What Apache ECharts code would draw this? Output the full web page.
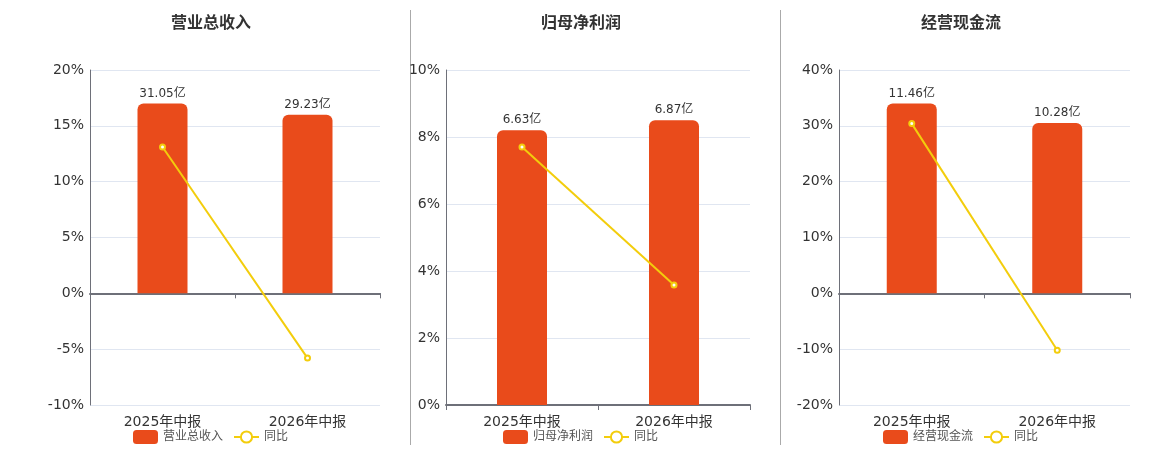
<!DOCTYPE html>
<html>
<head>
<meta charset="utf-8">
<script src="https://cdn.jsdelivr.net/npm/echarts@6/dist/echarts.min.js"></script>
<style>
  html, body { margin: 0; padding: 0; background: #fff; }
  #main { width: 1160px; height: 450px; }
</style>
</head>
<body>
<div id="main"></div>
<script>
// 数据
var categories = ['2025年中报', '2026年中报'];
var panelNames = ['营业总收入', '归母净利润', '经营现金流'];
var barValues = [
    [31.05, 29.23],
    [6.63, 6.87],
    [11.46, 10.28]
];
var yoyValues = [
    [13.1, -5.8],
    [7.7, 3.58],
    [30.4, -10.2]
];
var axisMin = [-10, 0, -20];
var axisMax = [20, 10, 40];
var axisStep = [5, 2, 10];

var barColor = '#e94b1b';
var lineColor = '#f3cd0c';
var fontFamily = '"DejaVu Sans", "Noto Sans CJK SC", sans-serif';

// 布局
var grids = [
    { left: 90, width: 290, top: 70, height: 335 },
    { left: 446, width: 304, top: 70, height: 335 },
    { left: 839, width: 291, top: 70, height: 335 }
];
var centers = [210, 580, 960];

var myChart = echarts.init(document.getElementById('main'));

var option = {
    animation: false,
    textStyle: { fontFamily: fontFamily },
    title: [],
    legend: [],
    grid: grids,
    xAxis: [],
    yAxis: [],
    series: [],
    graphic: [
        { type: 'line', shape: { x1: 410.5, y1: 10, x2: 410.5, y2: 445 }, style: { stroke: '#aaa', lineWidth: 1 } },
        { type: 'line', shape: { x1: 780.5, y1: 10, x2: 780.5, y2: 445 }, style: { stroke: '#aaa', lineWidth: 1 } }
    ]
};

for (var i = 0; i < 3; i++) {
    var hiddenMax = Math.max.apply(null, barValues[i]) / 0.85;
    var hiddenMin = hiddenMax * axisMin[i] / axisMax[i];

    option.title.push({
        text: panelNames[i],
        left: centers[i] - 4,
        top: 11,
        textAlign: 'center',
        textStyle: { fontSize: 16, fontWeight: 'bold', color: '#333', fontFamily: fontFamily }
    });

    option.legend.push({
        data: [panelNames[i], '同比'],
        left: centers[i] - 82,
        top: 425,
        itemWidth: 25,
        itemHeight: 14,
        itemGap: 10,
        textStyle: { fontSize: 12, color: '#555', fontFamily: fontFamily }
    });

    option.xAxis.push({
        type: 'category',
        gridIndex: i,
        data: categories,
        axisLine: { onZero: true, lineStyle: { color: '#6e7079', width: 2 } },
        axisTick: { show: true, lineStyle: { color: '#6e7079' } },
        axisLabel: { fontSize: 14, color: '#333', margin: 10, fontFamily: fontFamily },
        position: 'bottom'
    });
    option.xAxis.push({
        type: 'category',
        gridIndex: i,
        data: categories,
        show: false
    });

    option.yAxis.push({
        type: 'value',
        gridIndex: i,
        min: axisMin[i],
        max: axisMax[i],
        interval: axisStep[i],
        axisLine: { show: true, lineStyle: { color: '#6e7079' } },
        axisTick: { show: false },
        splitLine: { lineStyle: { color: '#e0e6f1' } },
        axisLabel: { formatter: '{value}%', fontSize: 14, color: '#333', margin: 6, fontFamily: fontFamily }
    });
    option.yAxis.push({
        type: 'value',
        gridIndex: i,
        min: hiddenMin,
        max: hiddenMax,
        show: false,
        splitLine: { show: false }
    });

    option.series.push({
        name: panelNames[i],
        type: 'bar',
        xAxisIndex: i * 2,
        yAxisIndex: i * 2 + 1,
        data: barValues[i],
        barWidth: 50,
        itemStyle: { color: barColor, borderRadius: [6, 6, 0, 0] },
        label: {
            show: true,
            position: 'top',
            distance: 4,
            fontSize: 12,
            color: '#333',
            fontFamily: fontFamily,
            formatter: function (p) { return p.value.toFixed(2) + '亿'; }
        }
    });
    option.series.push({
        name: '同比',
        type: 'line',
        xAxisIndex: i * 2,
        yAxisIndex: i * 2,
        data: yoyValues[i],
        symbol: 'emptyCircle',
        symbolSize: 5,
        lineStyle: { color: lineColor, width: 2 },
        itemStyle: { color: lineColor, borderWidth: 1.5 },
        z: 5
    });
}

myChart.setOption(option);
</script>
</body>
</html>
